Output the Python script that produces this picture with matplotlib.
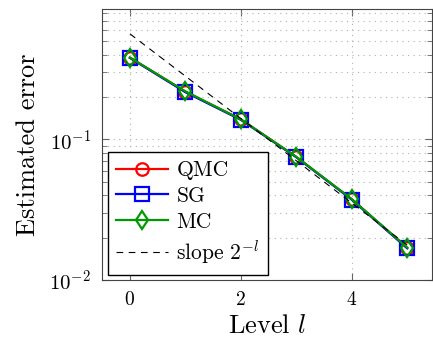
import matplotlib
matplotlib.use("Agg")
import matplotlib.pyplot as plt
from matplotlib.ticker import LogLocator, NullFormatter

plt.rcParams["font.family"] = "serif"
plt.rcParams["font.serif"] = ["cmr10"]
plt.rcParams["mathtext.fontset"] = "cm"
plt.rcParams["axes.formatter.use_mathtext"] = True

levels = [0, 1, 2, 3, 4, 5]
qmc = [0.382, 0.219, 0.139, 0.0750, 0.0375, 0.0169]
sg = [0.381, 0.217, 0.138, 0.0748, 0.0373, 0.0168]
mc = [0.383, 0.220, 0.139, 0.0752, 0.0376, 0.0170]
slope = [0.565, 0.2825, 0.141, 0.0706, 0.0353, 0.0177]

fig = plt.figure(figsize=(4.33, 3.43), dpi=100)
ax = fig.add_axes([0.236, 0.184, 0.762, 0.79])

ax.plot(levels, qmc, color="red", lw=1.6, marker="o", ms=9, mfc="none", mew=1.6, label="QMC")
ax.plot(levels, sg, color="blue", lw=1.6, marker="s", ms=10, mfc="none", mew=1.6, label="SG")
ax.plot(levels, mc, color="#009900", lw=1.6, marker="d", ms=9.5, mfc="none", mew=1.6, label="MC")
ax.plot(levels, slope, color="black", lw=0.8, ls=(0, (6, 5)), label=r"slope $2^{-l}$")

ax.set_yscale("log")
ax.set_xlim(-0.5, 5.45)
ax.set_ylim(0.01, 0.85)
ax.set_xticks([0, 2, 4])
ax.yaxis.set_major_locator(LogLocator(base=10))
ax.yaxis.set_minor_locator(LogLocator(base=10, subs=range(2, 10)))
ax.yaxis.set_minor_formatter(NullFormatter())

ax.grid(True, which="major", ls=(0, (1, 4)), color="#b0b0b0", lw=0.8)
ax.grid(True, which="minor", axis="y", ls=(0, (1, 4)), color="#b0b0b0", lw=0.8)
ax.tick_params(which="both", direction="in", top=True, right=True, color="#666666")
ax.tick_params(axis="x", labelsize=14, pad=8)
ax.tick_params(axis="y", labelsize=15, pad=8)
ax.tick_params(which="major", length=5)
ax.tick_params(which="minor", length=3.5)
for s in ax.spines.values():
    s.set_color("#444444")

ax.set_xlabel(r"Level $l$", fontsize=19, labelpad=4)
ax.set_ylabel("Estimated error", fontsize=19, labelpad=7)

leg = ax.legend(loc="lower left", fontsize=15.5, handlelength=2.4, handletextpad=0.4,
                frameon=True, fancybox=False, framealpha=1, edgecolor="black",
                borderaxespad=0.25, borderpad=0.4, labelspacing=0.3)
leg.get_frame().set_linewidth(1.0)

fig.savefig("out.png", dpi=100)
